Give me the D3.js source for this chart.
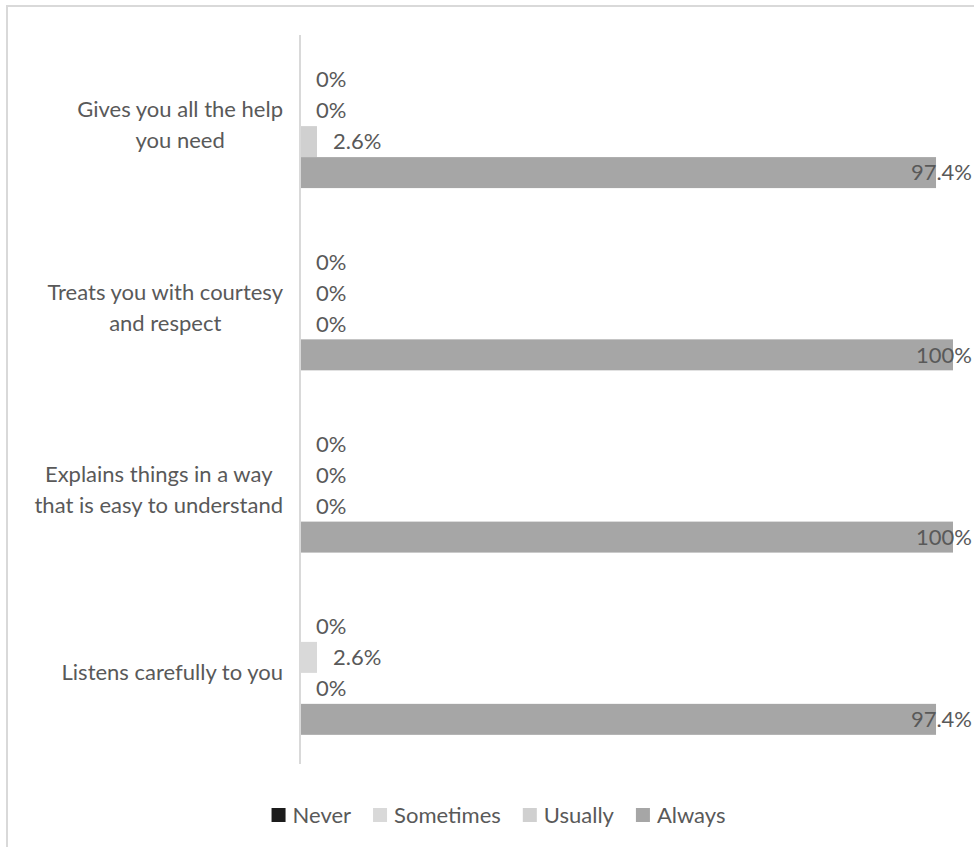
<!DOCTYPE html>
<html>
<head>
<meta charset="utf-8">
<script src="https://cdn.jsdelivr.net/npm/d3@7"></script>
<style>
  html, body { margin: 0; padding: 0; background: #fff; }
  svg { display: block; }
  text { font-family: Lato, "Open Sans", sans-serif; fill: #595959; }
</style>
</head>
<body>
<svg id="chart" width="974" height="847"></svg>
<script>
// Survey questions, top to bottom
const categories = [
  ["Gives you all the help", "you need"],
  ["Treats you with courtesy", "and respect"],
  ["Explains things in a way", "that is easy to understand"],
  ["Listens carefully to you"]
];
const seriesNames = ["Never", "Sometimes", "Usually", "Always"];
const seriesColors = ["#1c1c1c", "#d9d9d9", "#d0d0d0", "#a6a6a6"];

// Percent of responses per question, one array per answer
const never     = [0, 0, 0, 0];
const sometimes = [0, 0, 0, 2.6];
const usually   = [2.6, 0, 0, 0];
const always    = [97.4, 100, 100, 97.4];
const seriesValues = [never, sometimes, usually, always];

const svg = d3.select("#chart");
const W = 974, H = 847;
const fontSize = 22;

// Outer chart frame
svg.append("rect")
  .attr("x", 7).attr("y", 6)
  .attr("width", W + 10).attr("height", H + 10)
  .attr("fill", "#fff").attr("stroke", "#d9d9d9").attr("stroke-width", 2);

const plot = { left: 300, right: 953, top: 35, bottom: 764 };

const x = d3.scaleLinear().domain([0, 100]).range([plot.left, plot.right]);
const y = d3.scaleBand()
  .domain(d3.range(categories.length))
  .range([plot.top, plot.bottom])
  .paddingInner(0.32).paddingOuter(0.16);
const ySub = d3.scaleBand()
  .domain(d3.range(seriesNames.length))
  .range([0, y.bandwidth()]);

const rows = [];
categories.forEach((c, ci) => {
  seriesNames.forEach((s, si) => {
    rows.push({ ci, si, v: seriesValues[si][ci] });
  });
});

// Bars
svg.append("g").selectAll("rect")
  .data(rows)
  .join("rect")
  .attr("x", x(0))
  .attr("y", d => y(d.ci) + ySub(d.si))
  .attr("width", d => x(d.v) - x(0))
  .attr("height", ySub.bandwidth())
  .attr("fill", d => seriesColors[d.si]);

// Vertical category axis line
svg.append("line")
  .attr("x1", x(0)).attr("x2", x(0))
  .attr("y1", plot.top).attr("y2", plot.bottom)
  .attr("stroke", "#d9d9d9").attr("stroke-width", 2);

// Value labels, kept inside the chart area
const labelMax = 972;
const fmt = v => (v === 0 ? "0" : d3.format(".1~f")(v)) + "%";
svg.append("g").selectAll("text")
  .data(rows)
  .join("text")
  .attr("font-size", fontSize)
  .attr("y", d => y(d.ci) + ySub(d.si) + ySub.bandwidth() / 2)
  .attr("dy", "0.35em")
  .text(d => fmt(d.v))
  .each(function(d) {
    const w = this.getComputedTextLength();
    let lx = x(d.v) + 16;
    if (lx + w > labelMax) lx = labelMax - w;
    d3.select(this).attr("x", lx);
  });

// Category labels: block right-aligned to the axis, lines centred within it
const catG = svg.append("g");
categories.forEach((lines, ci) => {
  const g = catG.append("g");
  const texts = lines.map(l => g.append("text").attr("font-size", fontSize).text(l));
  const maxW = d3.max(texts, t => t.node().getComputedTextLength());
  const cx = 283 - maxW / 2;
  const lh = 31;
  const cy = y(ci) + y.bandwidth() / 2 - 1;
  texts.forEach((t, i) => {
    t.attr("text-anchor", "middle")
     .attr("x", cx)
     .attr("y", cy + (i - (lines.length - 1) / 2) * lh)
     .attr("dy", "0.35em");
  });
});

// Legend
const legend = svg.append("g");
const items = seriesNames.map((name, i) => {
  const g = legend.append("g");
  g.append("rect").attr("width", 14).attr("height", 14).attr("y", -7).attr("fill", seriesColors[i]);
  const t = g.append("text").attr("x", 21).attr("dy", "0.35em").attr("font-size", fontSize).text(name);
  return { g, w: 21 + t.node().getComputedTextLength() };
});
const gap = 22;
const total = d3.sum(items, d => d.w) + gap * (items.length - 1);
let lx = 498.5 - total / 2;
items.forEach(it => {
  it.g.attr("transform", `translate(${lx},815)`);
  lx += it.w + gap;
});
</script>
</body>
</html>
